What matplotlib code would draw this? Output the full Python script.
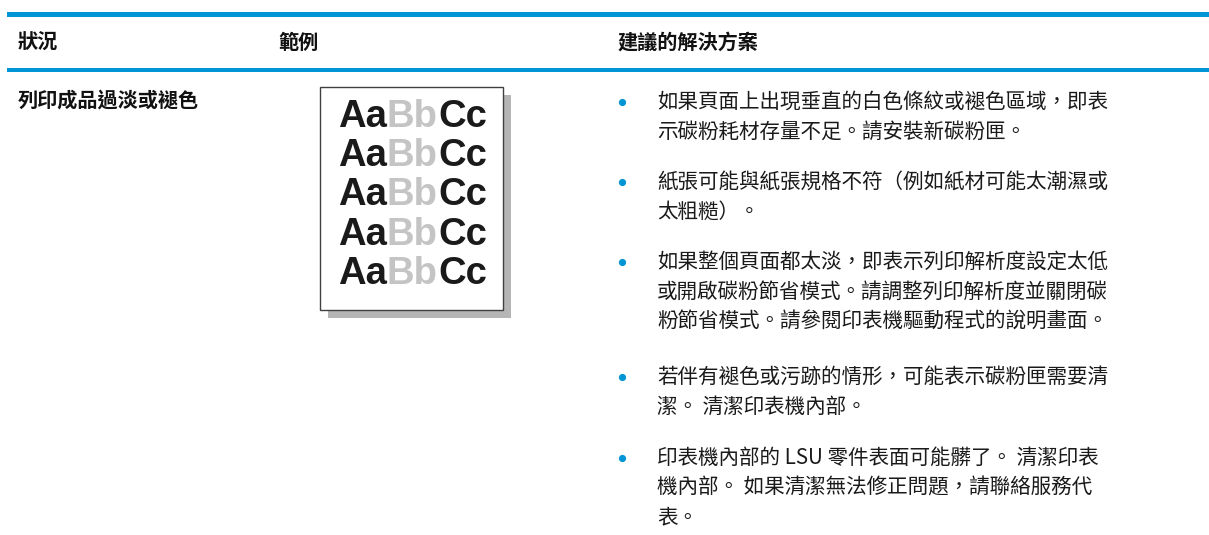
import matplotlib
matplotlib.use("Agg")
import matplotlib.pyplot as plt
from matplotlib.patches import Rectangle

plt.rcParams['font.family'] = ['Noto Sans CJK TC', 'DejaVu Sans']

# table content
headers = ["狀況", "範例", "建議的解決方案"]
condition = "列印成品過淡或褪色"
sample_parts = ["Aa", "Bb", "Cc"]
sample_rows = 5
solutions = [
    ["如果頁面上出現垂直的白色條紋或褪色區域，即表",
     "示碳粉耗材存量不足。請安裝新碳粉匣。"],
    ["紙張可能與紙張規格不符（例如紙材可能太潮濕或",
     "太粗糙）。"],
    ["如果整個頁面都太淡，即表示列印解析度設定太低",
     "或開啟碳粉節省模式。請調整列印解析度並關閉碳",
     "粉節省模式。請參閱印表機驅動程式的說明畫面。"],
    ["若伴有褪色或污跡的情形，可能表示碳粉匣需要清",
     "潔。 清潔印表機內部。"],
    ["印表機內部的 LSU 零件表面可能髒了。 清潔印表",
     "機內部。 如果清潔無法修正問題，請聯絡服務代",
     "表。"],
]

blue = "#0096d6"
W, H = 1209, 535

fig = plt.figure(figsize=(W / 100, H / 100), dpi=100)
ax = fig.add_axes([0, 0, 1, 1])
ax.set_xlim(0, W)
ax.set_ylim(H, 0)
ax.axis("off")

# rules
ax.add_patch(Rectangle((7, 12), W - 7, 5, color=blue, lw=0))
ax.add_patch(Rectangle((7, 68), W - 7, 4, color=blue, lw=0))

# header row
col_x = [18, 278, 617]
for x, h in zip(col_x, headers):
    ax.text(x, 42, h, fontsize=14.5, fontweight="bold", color="#111111",
            ha="left", va="center")

ax.text(18, 100, condition, fontsize=14.5, fontweight="bold", color="#111111",
        ha="left", va="center")

# sample page
ax.add_patch(Rectangle((328, 95), 183, 223, color="#b5b5b5", lw=0))
ax.add_patch(Rectangle((320, 87), 183, 223, facecolor="white",
                       edgecolor="#404040", lw=1.0))
part_colors = ["#1a1a1a", "#c4c4c4", "#1a1a1a"]
renderer = fig.canvas.get_renderer()
inv = ax.transData.inverted()
for r in range(sample_rows):
    y = 117 + r * 39.2
    x = 338
    for part, c in zip(sample_parts, part_colors):
        t = ax.text(x, y, part, fontsize=27.5, fontweight="bold", color=c,
                    family="Liberation Sans", ha="left", va="center")
        bb = t.get_window_extent(renderer)
        x = inv.transform((bb.x1, bb.y0))[0]

# solutions
bullet_y = [102, 182, 262, 377, 458]
step = 29.5
for y0, lines in zip(bullet_y, solutions):
    ax.plot(622, y0, "o", color=blue, markersize=5.2, mec="none")
    for i, line in enumerate(lines):
        ax.text(657, y0 + i * step, line, fontsize=14.8, color="#1a1a1a",
                fontweight="light", ha="left", va="center")

fig.savefig("out.png", dpi=100)
